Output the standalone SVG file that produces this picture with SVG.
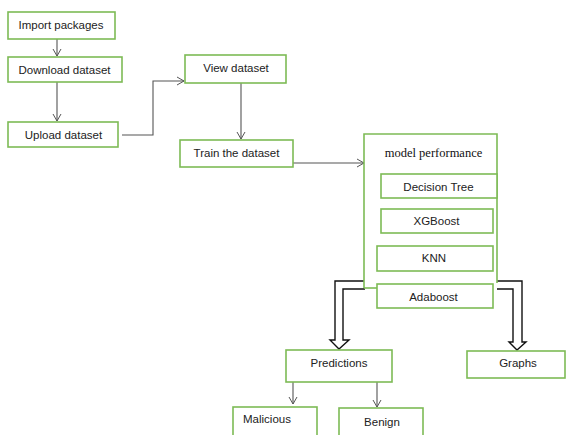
<svg xmlns="http://www.w3.org/2000/svg" width="566" height="435" viewBox="0 0 566 435">
<defs>
<marker id="ah" markerWidth="10" markerHeight="10" refX="8" refY="5" orient="auto" markerUnits="userSpaceOnUse">
<path d="M1,1 L8,5 L1,9" fill="none" stroke="#555" stroke-width="1"/>
</marker>
<style>
.box{fill:#fff;stroke:#7dbb55;stroke-width:1.6}
.t{font-family:"Liberation Sans",Arial,sans-serif;font-size:11.5px;fill:#222;text-anchor:middle}
.ts{font-family:"Liberation Serif","Times New Roman",serif;font-size:12.5px;fill:#111;text-anchor:middle}
.c{fill:none;stroke:#555;stroke-width:1.1}
.blk{fill:#fff;stroke:#111;stroke-width:1.4;stroke-linejoin:miter}
</style>
</defs>
<rect width="566" height="435" fill="#fff"/>
<g id="connectors">
<line class="c" x1="57" y1="39" x2="57" y2="56" marker-end="url(#ah)"/>
<line class="c" x1="57" y1="82" x2="57" y2="121" marker-end="url(#ah)"/>
<polyline class="c" points="122,135 153,135 153,81 184,81" marker-end="url(#ah)"/>
<line class="c" x1="241" y1="83" x2="241" y2="139" marker-end="url(#ah)"/>
<line class="c" x1="293" y1="163" x2="364" y2="163" marker-end="url(#ah)"/>
<line class="c" x1="293" y1="382" x2="293" y2="404" marker-end="url(#ah)"/>
<line class="c" x1="377" y1="382" x2="377" y2="407" marker-end="url(#ah)"/>
<path class="blk" d="M365,281 L335,281 L335,340 L330,340 L339,349 L349,340 L343,340 L343,289 L365,289"/>
<path class="blk" d="M497,281 L522,281 L522,342 L526,342 L517,350 L509,342 L513,342 L513,289 L497,289"/>
</g>
<g id="import-packages"><rect class="box" x="8" y="12" width="107" height="27"/><text class="t" x="61" y="29">Import packages</text></g>
<g id="download-dataset"><rect class="box" x="8" y="57" width="114" height="25"/><text class="t" x="64.5" y="74">Download dataset</text></g>
<g id="upload-dataset"><rect class="box" x="8" y="122" width="110" height="25"/><text class="t" x="63.5" y="139">Upload dataset</text></g>
<g id="view-dataset"><rect class="box" x="185" y="55" width="101" height="28"/><text class="t" x="236" y="72">View dataset</text></g>
<g id="train-dataset"><rect class="box" x="180" y="140" width="113" height="27"/><text class="t" x="236.5" y="157">Train the dataset</text></g>
<g id="model-performance">
<path class="box" d="M364,288 L364,134 L497,134 L497,283" />
<line x1="364" y1="288" x2="377" y2="288" stroke="#7dbb55" stroke-width="1.6"/>
<text class="ts" x="433.5" y="157">model performance</text>
</g>
<g id="decision-tree"><rect class="box" x="381" y="174" width="116" height="24"/><text class="t" x="438.5" y="191">Decision Tree</text></g>
<g id="xgboost"><rect class="box" x="381" y="209" width="112" height="24"/><text class="t" x="436.5" y="225">XGBoost</text></g>
<g id="knn"><rect class="box" x="377" y="246" width="116" height="25"/><text class="t" x="434" y="262">KNN</text></g>
<g id="adaboost"><rect class="box" x="377" y="284" width="116" height="24"/><text class="t" x="433.5" y="301">Adaboost</text></g>
<g id="predictions"><rect class="box" x="286" y="350" width="106" height="32"/><text class="t" x="339" y="367">Predictions</text></g>
<g id="graphs"><rect class="box" x="467" y="351" width="98" height="27"/><text class="t" x="518" y="367">Graphs</text></g>
<g id="malicious"><rect class="box" x="233" y="407" width="84" height="40"/><text class="t" x="267" y="423">Malicious</text></g>
<g id="benign"><rect class="box" x="339" y="408" width="84" height="40"/><text class="t" x="382" y="426">Benign</text></g>
</svg>
